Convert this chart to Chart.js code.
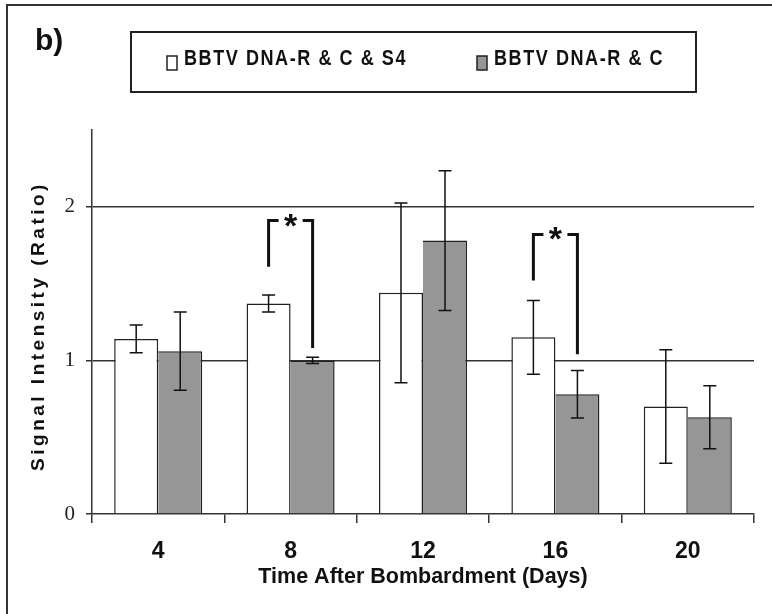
<!DOCTYPE html>
<html>
<head>
<meta charset="utf-8">
<script src="https://cdn.jsdelivr.net/npm/chart.js@4.4.1/dist/chart.umd.min.js"></script>
<style>
  html, body { margin: 0; padding: 0; background: #fff; }
  #wrap { position: relative; width: 772px; height: 614px; }
</style>
</head>
<body>
<div id="wrap"><canvas id="chart"></canvas></div>
<script>
// values
const days = ['4', '8', '12', '16', '20'];
const seriesNames = ['BBTV DNA-R & C & S4', 'BBTV DNA-R & C'];
const withS4 = [1.14, 1.37, 1.44, 1.15, 0.70];
const withS4Err = [0.09, 0.055, 0.585, 0.24, 0.37];
const withoutS4 = [1.06, 1.00, 1.78, 0.78, 0.63];
const withoutS4Err = [0.255, 0.02, 0.455, 0.155, 0.205];
const yTicks = [0, 1, 2];

// significance brackets (category, bracket top, left foot, right foot)
const sigDays = ['8', '16'];
const sigTop = [1.91, 1.82];
const sigLeftFoot = [1.61, 1.52];
const sigRightFoot = [1.08, 1.04];

const sans = "'Liberation Sans', Arial, sans-serif";

const decorations = {
  id: 'decorations',
  beforeDraw(chart) {
    const ctx = chart.ctx;
    ctx.save();
    ctx.fillStyle = '#fff';
    ctx.fillRect(0, 0, chart.width, chart.height);
    // outer frame (left and top only, like the cropped original)
    ctx.strokeStyle = '#333';
    ctx.lineWidth = 2;
    ctx.beginPath();
    ctx.moveTo(7, chart.height);
    ctx.lineTo(7, 5);
    ctx.lineTo(chart.width, 5);
    ctx.stroke();
    ctx.restore();
  },
  afterDraw(chart) {
    const ctx = chart.ctx;
    ctx.save();
    ctx.fillStyle = '#111';
    ctx.font = 'bold 30px ' + sans;
    ctx.textBaseline = 'alphabetic';
    ctx.fillText('b)', 35, 50);

    // legend box
    ctx.strokeStyle = '#222';
    ctx.lineWidth = 2;
    ctx.strokeRect(131, 32, 565, 60);
    const itemX = [167, 477];
    const textX = [184, 494];
    chart.data.datasets.forEach((ds, i) => {
      ctx.fillStyle = ds.backgroundColor;
      ctx.fillRect(itemX[i], 56, 10, 14);
      ctx.lineWidth = 1.5;
      ctx.strokeStyle = '#222';
      ctx.strokeRect(itemX[i], 56, 10, 14);
      // narrow bold face: squeeze the regular one horizontally
      ctx.save();
      ctx.translate(textX[i], 65);
      ctx.scale(0.82, 1);
      ctx.font = 'bold 22px ' + sans;
      ctx.letterSpacing = '1.9px';
      ctx.fillStyle = '#111';
      ctx.fillText(ds.label, 0, 0);
      ctx.restore();
    });

    // y-axis title (letter-spaced like the original)
    ctx.letterSpacing = '3.5px';
    ctx.font = 'bold 19px ' + sans;
    ctx.translate(39, 326);
    ctx.rotate(-Math.PI / 2);
    ctx.textAlign = 'center';
    ctx.textBaseline = 'middle';
    ctx.fillStyle = '#111';
    ctx.fillText('Signal Intensity (Ratio)', 0, 0);
    ctx.restore();
  }
};

const errorBars = {
  id: 'errorBars',
  afterDatasetsDraw(chart) {
    const { ctx, scales: { y } } = chart;
    ctx.save();
    ctx.strokeStyle = '#111';
    ctx.lineWidth = 1.5;
    chart.data.datasets.forEach((ds, i) => {
      chart.getDatasetMeta(i).data.forEach((bar, j) => {
        const hi = y.getPixelForValue(ds.data[j] + ds.errors[j]);
        const lo = y.getPixelForValue(ds.data[j] - ds.errors[j]);
        ctx.beginPath();
        ctx.moveTo(bar.x, hi); ctx.lineTo(bar.x, lo);
        ctx.moveTo(bar.x - 6.5, hi); ctx.lineTo(bar.x + 6.5, hi);
        ctx.moveTo(bar.x - 6.5, lo); ctx.lineTo(bar.x + 6.5, lo);
        ctx.stroke();
      });
    });
    ctx.restore();
  }
};

const brackets = {
  id: 'brackets',
  afterDatasetsDraw(chart) {
    const { ctx, scales: { y } } = chart;
    const left = chart.getDatasetMeta(0).data;
    const right = chart.getDatasetMeta(1).data;
    ctx.save();
    ctx.strokeStyle = '#111';
    ctx.fillStyle = '#111';
    ctx.lineWidth = 3;
    sigDays.forEach((d, k) => {
      const idx = days.indexOf(d);
      const xl = left[idx].x, xr = right[idx].x;
      const top = y.getPixelForValue(sigTop[k]);
      ctx.beginPath();
      ctx.moveTo(xl, y.getPixelForValue(sigLeftFoot[k]));
      ctx.lineTo(xl, top);
      ctx.lineTo(xl + 10, top);
      ctx.moveTo(xr - 10, top);
      ctx.lineTo(xr, top);
      ctx.lineTo(xr, y.getPixelForValue(sigRightFoot[k]));
      ctx.stroke();
      ctx.font = 'bold 34px ' + sans;
      ctx.textAlign = 'center';
      ctx.textBaseline = 'alphabetic';
      ctx.fillText('*', (xl + xr) / 2, top + 16);
    });
    ctx.restore();
  }
};

new Chart(document.getElementById('chart'), {
  type: 'bar',
  data: {
    labels: days,
    datasets: [
      {
        label: seriesNames[0],
        data: withS4,
        errors: withS4Err,
        backgroundColor: '#ffffff',
        borderColor: '#222',
        borderWidth: 1.5
      },
      {
        label: seriesNames[1],
        data: withoutS4,
        errors: withoutS4Err,
        backgroundColor: '#969696',
        borderColor: '#222',
        borderWidth: { top: 1.5, right: 1.5, left: 0, bottom: 0 }
      }
    ]
  },
  options: {
    responsive: true,
    maintainAspectRatio: false,
    animation: false,
    layout: { padding: { left: 24, top: 130, right: 18, bottom: 18 } },
    datasets: { bar: { categoryPercentage: 0.665, barPercentage: 1 } },
    plugins: {
      legend: { display: false },
      tooltip: { enabled: false }
    },
    scales: {
      x: {
        grid: { offset: true, drawOnChartArea: false, tickLength: 9, color: '#333', lineWidth: 1.5 },
        border: { color: '#333', width: 1.5 },
        ticks: { color: '#111', padding: 15, font: { family: sans, size: 23, weight: 'bold' } },
        title: {
          display: true,
          text: 'Time After Bombardment (Days)',
          color: '#111',
          font: { family: sans, size: 21.5, weight: 'bold' },
          padding: { top: 0, bottom: 6 }
        },
        afterFit: s => { s.height = 82; }
      },
      y: {
        min: 0,
        max: 2.5,
        afterBuildTicks: s => { s.ticks = yTicks.map(v => ({ value: v })); },
        ticks: { color: '#222', padding: 11, font: { family: "'Liberation Serif', serif", size: 21 } },
        grid: {
          tickLength: 6,
          lineWidth: 1.5,
          tickColor: '#333',
          color: c => (c.tick && c.tick.value > 0 ? '#333' : 'rgba(0,0,0,0)')
        },
        border: { color: '#333', width: 1.5 },
        afterFit: s => { s.width = 68; }
      }
    }
  },
  plugins: [decorations, errorBars, brackets]
});
</script>
</body>
</html>
